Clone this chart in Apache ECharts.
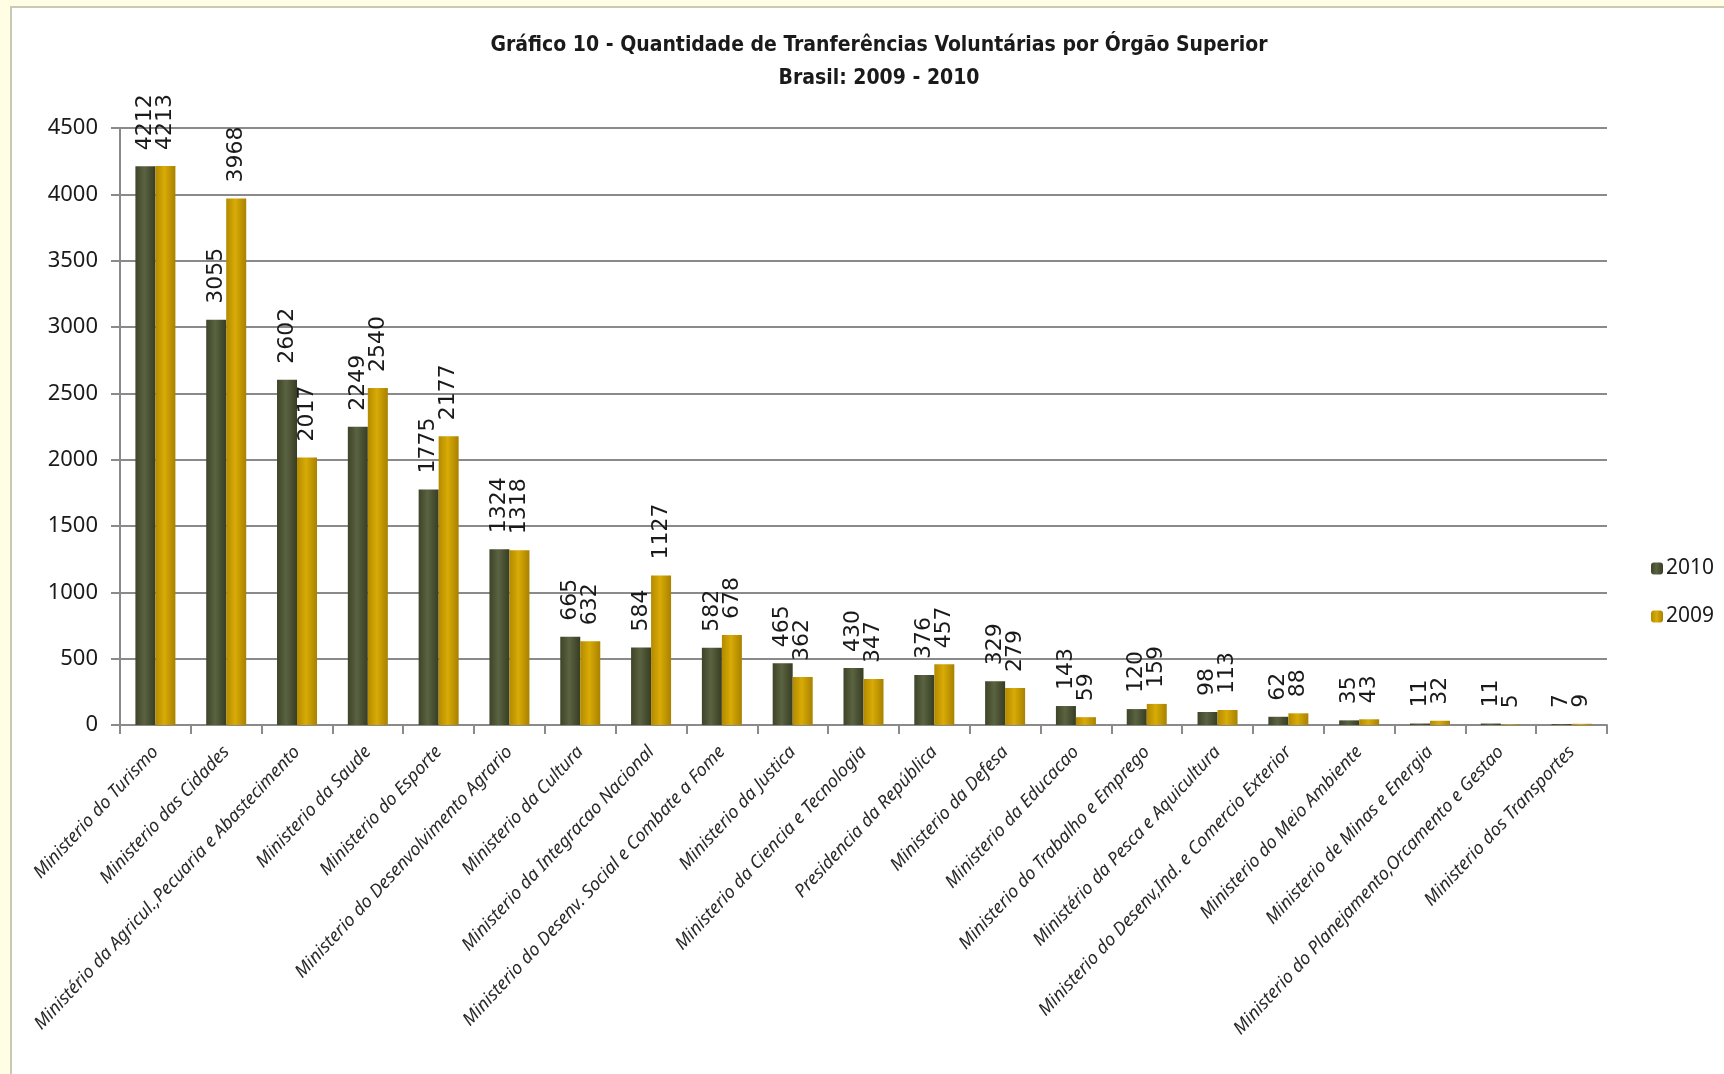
<!DOCTYPE html>
<html>
<head>
<meta charset="utf-8">
<script src="https://cdn.jsdelivr.net/npm/echarts@6/dist/echarts.min.js"></script>
<style>
html,body{margin:0;padding:0;background:#FFFDE4;}
#chart{width:1724px;height:1074px;}
</style>
</head>
<body>
<div id="chart"></div>
<script>
const categories = [
  "Ministerio do Turismo",
  "Ministerio das Cidades",
  "Ministério da Agricul.,Pecuaria e Abastecimento",
  "Ministerio da Saude",
  "Ministerio do Esporte",
  "Ministerio do Desenvolvimento Agrario",
  "Ministerio da Cultura",
  "Ministerio da Integracao Nacional",
  "Ministerio do Desenv. Social e Combate a Fome",
  "Ministerio da Justica",
  "Ministerio da Ciencia e Tecnologia",
  "Presidencia da República",
  "Ministerio da Defesa",
  "Ministerio da Educacao",
  "Ministerio do Trabalho e Emprego",
  "Ministério da Pesca e Aquicultura",
  "Ministerio do Desenv,Ind. e Comercio Exterior",
  "Ministerio do Meio Ambiente",
  "Ministerio de Minas e Energia",
  "Ministerio do Planejamento,Orcamento e Gestao",
  "Ministerio dos Transportes"
];
const values2010 = [4212, 3055, 2602, 2249, 1775, 1324, 665, 584, 582, 465, 430, 376, 329, 143, 120, 98, 62, 35, 11, 11, 7];
const values2009 = [4213, 3968, 2017, 2540, 2177, 1318, 632, 1127, 678, 362, 347, 457, 279, 59, 159, 113, 88, 43, 32, 5, 9];
const seriesNames = ["2010", "2009"];
const titleLines = ["Gráfico 10 - Quantidade de Tranferências Voluntárias por Órgão Superior", "Brasil: 2009 - 2010"];

const narrow = "'DejaVu Sans Condensed', 'Liberation Sans Narrow', sans-serif";

function grad(edgeL, mid, edgeR) {
  return {type: 'linear', x: 0, y: 0, x2: 1, y2: 0,
    colorStops: [{offset: 0, color: edgeL}, {offset: 0.45, color: mid}, {offset: 1, color: edgeR}]};
}

const labelCfg = {
  show: true, position: 'top', rotate: 90, align: 'left', verticalAlign: 'middle',
  distance: 16, fontFamily: 'DejaVu Sans', fontSize: 22, color: '#1a1a1a'
};

const chart = echarts.init(document.getElementById('chart'));
chart.setOption({
  backgroundColor: '#FFFDE4',
  animation: false,
  graphic: [{
    type: 'rect', shape: {x: 11, y: 7, width: 1720, height: 1080},
    style: {fill: '#ffffff', stroke: '#c9c9b4', lineWidth: 2}, z: -1
  }],
  title: {
    text: titleLines.join('\n'),
    left: 874, top: 24, textAlign: 'center',
    textStyle: {fontFamily: narrow, fontWeight: 'bold', fontSize: 21, lineHeight: 33, color: '#1a1a1a'}
  },
  legend: [
    {data: [seriesNames[0]], left: 1646, top: 553, itemWidth: 12, itemHeight: 12, itemGap: 6,
      textStyle: {fontFamily: 'Noto Sans', fontSize: 21, color: '#1a1a1a', padding: [0, 0, 0, -2]}},
    {data: [seriesNames[1]], left: 1646, top: 601, itemWidth: 12, itemHeight: 12, itemGap: 6,
      textStyle: {fontFamily: 'Noto Sans', fontSize: 21, color: '#1a1a1a', padding: [0, 0, 0, -2]}}
  ],
  grid: {left: 120, right: 117, top: 128, bottom: 349, containLabel: false},
  xAxis: {
    type: 'category', data: categories,
    axisLine: {lineStyle: {color: '#8a8a8a', width: 2}},
    axisTick: {show: true, length: 9, lineStyle: {color: '#8a8a8a', width: 2}},
    axisLabel: {rotate: 47, interval: 0, margin: 24, fontFamily: 'Noto Sans', fontStyle: 'italic',
      fontSize: 18, color: '#2a2a2a'}
  },
  yAxis: {
    type: 'value', min: 0, max: 4500, interval: 500,
    axisLine: {show: true, lineStyle: {color: '#8a8a8a', width: 2}},
    axisTick: {show: true, length: 9, lineStyle: {color: '#8a8a8a', width: 2}},
    axisLabel: {margin: 22, fontFamily: 'Noto Sans', fontSize: 22, color: '#1a1a1a',
      formatter: function (v) { return String(v); }},
    splitLine: {lineStyle: {color: '#8a8a8a', width: 2}}
  },
  series: [
    {name: seriesNames[0], type: 'bar', data: values2010, barWidth: 20, barGap: '0%',
      itemStyle: {color: grad('#3d4428', '#5a6341', '#373d23')}, label: labelCfg},
    {name: seriesNames[1], type: 'bar', data: values2009, barWidth: 20, barGap: '0%',
      itemStyle: {color: grad('#b38a00', '#d8ab06', '#a88100')}, label: labelCfg}
  ]
});
</script>
</body>
</html>
